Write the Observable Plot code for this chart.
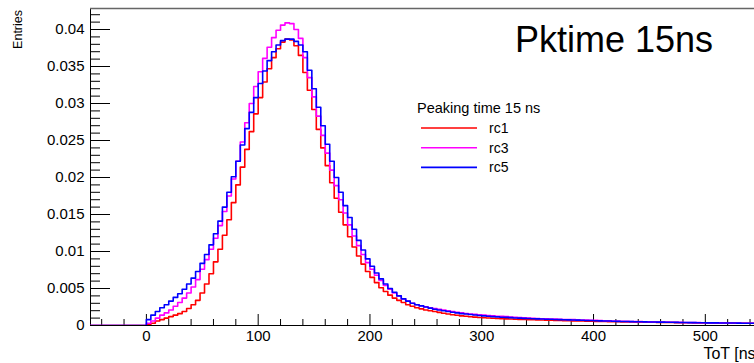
<!DOCTYPE html>
<html><head><meta charset="utf-8">
<script src="https://cdn.jsdelivr.net/npm/d3@7"></script>
<script src="https://cdn.jsdelivr.net/npm/@observablehq/plot@0.6"></script>
<style>html,body{margin:0;padding:0;background:#fff;} svg{display:block;}</style>
</head><body><div id="chart"></div>
<script>
// Histogram bins: start at 0 ns, width 4 ns. Values in units of 1e-4 entries.
const binStart = 0;
const binWidth = 4;
const valueUnit = 1e-4;
const rc1 = [1,3,6,8,10,12,14,16,19,23, 28,34,44,56,70,86,103,122,143,166, 190,214,238,262,286,308,329,347,362,374, 383,387,386,378,365,342,318,292,265,240, 216,193,172,153,136,120,106,94,83,73, 65,58,51,46,41,37,34,31,28,26, 24,22.5,21,20,19,17.8,16.5,15.5,14.5,13.8, 13,12.4,11.8,11.3,10.9,10.5,10.1,9.8,9.5,9.2, 9.0,8.7,8.5,8.3,8.1,8.0,7.8,7.6,7.4,7.2, 7.0,6.9,6.7,6.6,6.4,6.3,6.1,6.0,5.9,5.7, 5.6,5.5,5.4,5.3,5.1,5.0,4.9,4.8,4.7,4.6, 4.5,4.4,4.3,4.3,4.2,4.1,4.0,4.0,3.9,3.8, 3.8,3.7,3.6,3.6,3.5,3.5,3.4,3.4,3.3,3.3, 3.2,3.2,3.1,3.1,3.0,3.0];
const rc3 = [3,6,10,14,17,21,26,31,37,44, 52,62,76,89,103,118,135,154,175,198, 222,248,274,300,323,343,361,376,389,399, 406,409,408,400,388,362,335,309,283,257, 233,210,189,170,152,136,121,108,96,85, 76,68,61,54,49,44,40,36,33,30, 28,26.6,25.2,24,22.8,21.8,20.8,19.8,18.8,17.8, 17,16.3,15.6,15,14.5,14,13.5,13,12.6,12.3, 12,11.5,11.1,10.7,10.3,10,9.7,9.5,9.2,9.0, 8.8,8.6,8.4,8.2,8.1,7.9,7.6,7.4,7.2,7.1, 7.0,6.7,6.5,6.3,6.1,6.0,5.8,5.6,5.5,5.3, 5.2,5.0,4.9,4.8,4.7,4.6,4.5,4.4,4.3,4.2, 4.1,4.0,3.9,3.9,3.8,3.7,3.6,3.6,3.5,3.4, 3.3,3.3,3.2,3.1,3.1,3.0];
const rc5 = [8,14,19,24,28,33,38,43,49,56, 64,73,84,96,109,124,141,160,180,201, 222,244,266,288,308,327,344,358,370,379, 385,387,387,384,379,370,345,320,295,270, 245,222,200,180,162,146,130,115,102,90, 80,71,63,56,50,45,40,36,33,30, 28,26.5,25,23.5,22,21,20,19,18,17, 16,15.5,14.8,14.2,13.5,13,12.5,12,11.6,11.2, 11,10.6,10.2,9.9,9.6,9.4,9.1,8.9,8.7,8.5, 8.4,8.1,7.9,7.8,7.6,7.4,7.2,7.0,6.8,6.7, 6.5,6.3,6.1,6.0,5.8,5.6,5.5,5.4,5.2,5.1, 5.0,4.9,4.8,4.7,4.6,4.5,4.4,4.3,4.2,4.1, 4.0,3.9,3.9,3.8,3.7,3.6,3.6,3.5,3.4,3.4, 3.3,3.3,3.2,3.1,3.1,3.0];
const seriesNames = ["rc1", "rc3", "rc5"];
const seriesValues = [rc1, rc3, rc5];
const seriesColors = ["#ff0000", "#ff00ff", "#0000ff"];
const legendTitle = "Peaking time 15 ns";
const bigTitle = "Pktime 15ns";
const xTitle = "ToT [ns]";
const yTitle = "Entries";
const xDomain = [-50, 544];
const yDomain = [0, 0.04284];
const xMajorTicks = [0, 100, 200, 300, 400, 500];
const xTickLabels = ["0", "100", "200", "300", "400", "500"];
const yMajorTicks = [0, 0.005, 0.01, 0.015, 0.02, 0.025, 0.03, 0.035, 0.04];
const yTickLabels = ["0", "0.005", "0.01", "0.015", "0.02", "0.025", "0.03", "0.035", "0.04"];

const W = 754, H = 363, ML = 90, MR = 0, MT = 8, MB = 38;
const PW = W - ML - MR, PH = H - MT - MB;
const font = "'Liberation Sans', Arial, Helvetica, sans-serif";

const xMinor = d3.range(-40, 544, 20).filter(v => v % 100 !== 0);
const yMinor = d3.range(1, 43).map(k => k * 0.001).filter((v, i) => (i + 1) % 5 !== 0);

function rowsFor(vals, name) {
  const rows = [{x: xDomain[0], y: 0, s: name}];
  vals.forEach((v, i) => rows.push({x: binStart + i * binWidth, y: v * valueUnit, s: name}));
  rows.push({x: binStart + vals.length * binWidth, y: vals[vals.length - 1] * valueUnit, s: name});
  return rows;
}

const lineMarks = seriesNames.map((n, i) =>
  Plot.line(rowsFor(seriesValues[i], n), {x: "x", y: "y", curve: "step-after", stroke: seriesColors[i], strokeWidth: 1.6, clip: true})
);

const plot = Plot.plot({
  width: W, height: H,
  marginLeft: ML, marginRight: MR, marginTop: MT, marginBottom: MB,
  x: {domain: xDomain},
  y: {domain: yDomain},
  style: {fontFamily: font, background: "#fff", overflow: "visible"},
  marks: [
    Plot.ruleY(yMajorTicks, {y: d => d, insetRight: PW - 20, stroke: "#000", strokeWidth: 1}),
    Plot.ruleY(yMinor, {y: d => d, insetRight: PW - 10, stroke: "#000", strokeWidth: 1}),
    Plot.ruleX(xMajorTicks, {x: d => d, insetTop: PH - 11, stroke: "#000", strokeWidth: 1}),
    Plot.ruleX(xMinor, {x: d => d, insetTop: PH - 6, stroke: "#000", strokeWidth: 1}),
    Plot.ruleX([xDomain[0]], {stroke: "#000", strokeWidth: 1}),
    Plot.ruleY([0], {stroke: "#000", strokeWidth: 1}),
    Plot.ruleY([yDomain[1]], {stroke: "#666", strokeWidth: 1.5}),
    ...lineMarks,
    Plot.axisY(yMajorTicks, {tickSize: 0, tickPadding: 6, fontSize: 15, label: null,
      tickFormat: d => yTickLabels[yMajorTicks.indexOf(d)]}),
    Plot.axisX(xMajorTicks, {tickSize: 0, tickPadding: 5, fontSize: 15, label: null,
      tickFormat: d => xTickLabels[xMajorTicks.indexOf(d)]})
  ]
});

const svg = d3.select(plot);
svg.selectAll("text").style("fill", "#000");
const g = svg.append("g").attr("font-family", font).attr("fill", "#000").attr("text-anchor", "start");
g.append("text").attr("x", 515).attr("y", 52).attr("font-size", 36).attr("text-anchor", "start").text(bigTitle);
g.append("text").attr("x", 417).attr("y", 113).attr("font-size", 14.5).attr("text-anchor", "start").text(legendTitle);
seriesNames.forEach((n, i) => {
  const yy = 128 + i * 19.7;
  g.append("line").attr("x1", 421).attr("x2", 477).attr("y1", yy).attr("y2", yy)
    .attr("stroke", seriesColors[i]).attr("stroke-width", 1.6);
  g.append("text").attr("x", 489).attr("y", yy + 5).attr("font-size", 14).attr("text-anchor", "start").text(n);
});
g.append("text").attr("transform", "translate(22,10) rotate(-90)").attr("text-anchor", "end")
  .attr("font-size", 12.5).text(yTitle);
g.append("text").attr("x", 760).attr("y", 359).attr("text-anchor", "end").attr("font-size", 16).text(xTitle);

document.getElementById("chart").appendChild(plot);
</script>
</body></html>
